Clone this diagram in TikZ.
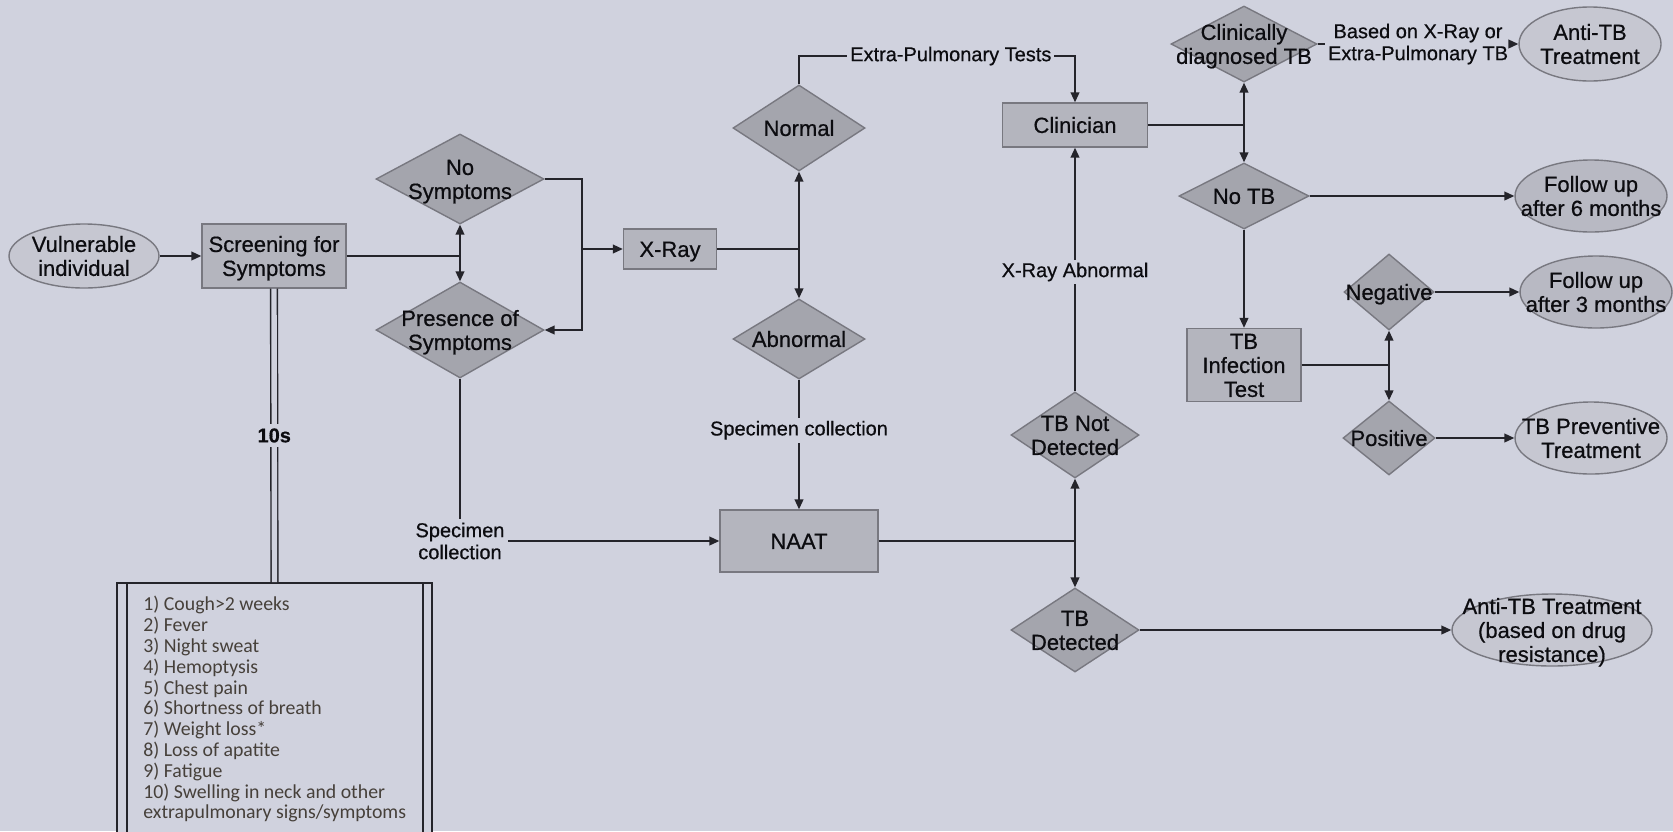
\documentclass[tikz,border=0pt]{standalone}
\usepackage{fontspec}
\setmainfont{Liberation Sans}[FakeBold=0.6]
\newfontfamily\listfont{Carlito}
\usetikzlibrary{shapes.geometric,arrows.meta}
\definecolor{bg}{RGB}{208,210,222}
\definecolor{boxf}{RGB}{180,181,190}
\definecolor{diaf}{RGB}{164,165,173}
\definecolor{ellf}{RGB}{198,199,209}
\definecolor{ellg}{RGB}{184,185,195}
\definecolor{bord}{RGB}{120,120,128}
\definecolor{lnc}{RGB}{36,36,42}
\definecolor{txt}{RGB}{12,12,16}
\definecolor{listc}{RGB}{70,64,58}
\newcommand\ztxt[1]{\smash{\makebox[0pt]{\raisebox{-4.3pt}{\begin{tabular}{@{}c@{}}#1\end{tabular}}}}}
\begin{document}
\begin{tikzpicture}[x=0.5pt,y=-0.5pt,
  font=\fontsize{11}{12}\selectfont,
  every node/.style={text=txt},
  ln/.style={draw=lnc, line width=0.8pt},
  arr/.style={ln, -{Triangle[length=5pt,width=4.4pt]}},
  box/.style={rectangle, draw=bord, line width=0.7pt, fill=boxf, inner sep=0pt},
  dia/.style={diamond, draw=bord, line width=0.7pt, fill=diaf, inner sep=0pt},
  ell/.style={ellipse, draw=bord, line width=0.7pt, fill=ellf, inner sep=0pt},
  ellD/.style={ell, fill=ellg},
  lbl/.style={fill=bg, inner sep=1.5pt, font=\fontsize{10}{11}\selectfont, align=center},
]
\fill[bg] (0,0) rectangle (1673,831);
\useasboundingbox (0,0) rectangle (1673,831);

% nodes
\node[ell, minimum width=75pt, minimum height=32pt] (vul) at (84,256) {\ztxt{Vulnerable\\individual}};
\node[box, minimum width=72pt, minimum height=32pt] (scr) at (274,256) {\ztxt{Screening for\\Symptoms}};
\node[dia, minimum width=84pt, minimum height=45pt] (nosym) at (460,179) {\ztxt{No\\Symptoms}};
\node[dia, minimum width=84pt, minimum height=48pt] (pres) at (460,330) {\ztxt{Presence of\\Symptoms}};
\node[box, minimum width=46.5pt, minimum height=20pt] (xray) at (670,249) {\ztxt{X-Ray}};
\node[dia, minimum width=66pt, minimum height=43pt] (normal) at (799,128) {\ztxt{Normal}};
\node[dia, minimum width=66pt, minimum height=40pt] (abn) at (799,339) {\ztxt{Abnormal}};
\node[box, minimum width=72.5pt, minimum height=22pt] (clin) at (1075,125) {\ztxt{Clinician}};
\node[box, minimum width=79pt, minimum height=31pt] (naat) at (799,541) {\ztxt{NAAT}};
\node[dia, minimum width=64pt, minimum height=43pt] (tbnd) at (1075,435) {\ztxt{TB Not\\Detected}};
\node[dia, minimum width=64pt, minimum height=42pt] (tbd) at (1075,630) {\ztxt{TB\\Detected}};
\node[ell, minimum width=100pt, minimum height=36pt] (atb2) at (1552,630) {\ztxt{Anti-TB Treatment\\(based on drug\\resistance)}};
\node[dia, minimum width=73pt, minimum height=38pt] (cdtb) at (1244,44) {\ztxt{Clinically\\diagnosed TB}};
\node[ell, minimum width=71pt, minimum height=37pt] (atb1) at (1590,44) {\ztxt{Anti-TB\\Treatment}};
\node[dia, minimum width=65pt, minimum height=33pt] (notb) at (1244,196) {\ztxt{No TB}};
\node[ellD, minimum width=76pt, minimum height=36pt] (fu6) at (1591,196) {\ztxt{Follow up\\after 6 months}};
\node[box, minimum width=57pt, minimum height=36.5pt] (tbit) at (1244,365) {\ztxt{TB\\Infection\\Test}};
\node[dia, minimum width=45pt, minimum height=38pt] (neg) at (1389,292) {\ztxt{Negative}};
\node[dia, minimum width=46pt, minimum height=37pt] (pos) at (1389,438) {\ztxt{Positive}};
\node[ellD, minimum width=76pt, minimum height=36pt] (fu3) at (1596,292) {\ztxt{Follow up\\after 3 months}};
\node[ell, minimum width=76pt, minimum height=36pt] (tbpt) at (1591,438) {\ztxt{TB Preventive\\Treatment}};

% symptom list
\node[rectangle, draw=lnc, line width=0.8pt, fill=bg, minimum width=157.5pt, minimum height=126pt, inner sep=0pt] (symlist) at (274.5,709) {};
\draw[ln] ([xshift=5.5pt]symlist.north west) -- ([xshift=5.5pt]symlist.south west);
\draw[ln] ([xshift=-5pt]symlist.north east) -- ([xshift=-5pt]symlist.south east);
\node[anchor=north west, inner sep=0pt, align=left, text=listc, font=\listfont\fontsize{9.9}{10.4}\selectfont] (items) at (143,596) {1) Cough>2 weeks\\2) Fever\\3) Night sweat\\4) Hemoptysis\\5) Chest pain\\6) Shortness of breath\\7) Weight loss*\\8) Loss of apatite\\9) Fatigue\\10) Swelling in neck and other\\extrapulmonary signs/symptoms};

% labels
\node[lbl, fill=none] (spec1) at (460,541) {Specimen\\collection};
\node[lbl, fill=none] (based) at (1418,44) {Based on X-Ray or\\Extra-Pulmonary TB};

% junction points
\coordinate (j1) at (460,256);
\coordinate (xr1) at (582,249);
\coordinate (j2) at (799,249);
\coordinate (j3) at (1075,541);
\coordinate (j4) at (1244,125);
\coordinate (j5) at (1389,365);
\coordinate (eptL) at (799,56);
\coordinate (eptR) at (1075,56);

% connectors
\draw[arr] (vul) -- (scr);
\draw[ln] (scr.east) -- (j1);
\draw[arr] (j1) -- (nosym.south);
\draw[arr] (j1) -- (pres.north);
\draw[arr] (nosym.east) -| (xr1) |- (pres.east);
\draw[arr] (xr1) -- (xray.west);
\draw[ln] (xray.east) -- (j2);
\draw[arr] (j2) -- (normal.south);
\draw[arr] (j2) -- (abn.north);
\draw[arr] (normal.north) -- (eptL) -- node[lbl, pos=0.55]{Extra-Pulmonary Tests} (eptR) -- (clin.north);
\draw[arr] (abn.south) -- node[lbl, pos=0.39]{Specimen collection} (naat.north);
\draw[ln] (pres.south) -- (spec1.north);
\draw[arr] (spec1.east) -- (naat.west);
\draw[ln] (naat.east) -- (j3);
\draw[arr] (j3) -- (tbnd.south);
\draw[arr] (j3) -- (tbd.north);
\draw[arr] (tbnd.north) -- node[lbl, pos=0.49]{X-Ray Abnormal} (clin.south);
\draw[arr] (tbd.east) -- (atb2.west);
\draw[ln] (clin.east) -- (j4);
\draw[arr] (j4) -- (cdtb.south);
\draw[arr] (j4) -- (notb.north);
\draw[ln] (cdtb.east) -- (based.west);
\draw[arr] (based.east) -- (atb1.west);
\draw[arr] (notb.east) -- (fu6.west);
\draw[arr] (notb.south) -- (tbit.north);
\draw[ln] (tbit.east) -- (j5);
\draw[arr] (j5) -- (neg.south);
\draw[arr] (j5) -- (pos.north);
\draw[arr] (neg.east) -- (fu3.west);
\draw[arr] (pos.east) -- (tbpt.west);
\draw[draw=lnc, line width=0.7pt, double=bg, double distance=2.7pt] (scr.south) -- node[lbl, font=\bfseries\fontsize{10}{11}\selectfont, inner sep=2pt]{10s} (symlist.north);
\end{tikzpicture}
\end{document}
